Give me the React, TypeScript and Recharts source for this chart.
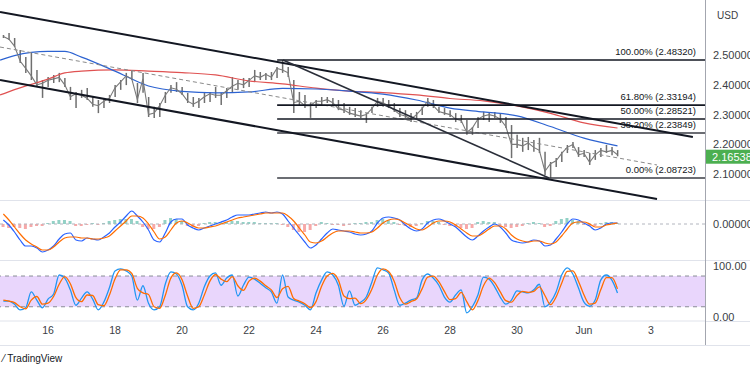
import React from "react";
import {
  ComposedChart,
  Line,
  Bar,
  Cell,
  XAxis,
  YAxis,
  ReferenceLine,
  ReferenceArea,
} from "recharts";

// 4h bars starting May 14, 16:00 (x axis is "day of May", Jun 1 = 32)
const START_DAY = 14 + 4 / 6;
const STEP = 1 / 6;
const X_MIN = 14.567;
const X_MAX = 35.612;

const priceHigh = [
  2.567, 2.574, 2.557, 2.517, 2.493, 2.507, 2.45, 2.416, 2.426, 2.433,
  2.44, 2.423, 2.393, 2.376, 2.383, 2.389, 2.359, 2.349, 2.356, 2.366,
  2.399, 2.416, 2.44, 2.45, 2.406, 2.44, 2.359, 2.326, 2.339, 2.376,
  2.399, 2.409, 2.393, 2.373, 2.359, 2.356, 2.373, 2.376, 2.393, 2.373,
  2.389, 2.426, 2.416, 2.423, 2.423, 2.45, 2.443, 2.44, 2.443, 2.46,
  2.4832, 2.46, 2.416, 2.376, 2.366, 2.339, 2.349, 2.359, 2.359, 2.356,
  2.349, 2.339, 2.326, 2.322, 2.315, 2.305, 2.326, 2.356, 2.356, 2.349,
  2.339, 2.322, 2.315, 2.305, 2.309, 2.326, 2.356, 2.349, 2.326, 2.322,
  2.315, 2.305, 2.299, 2.282, 2.258, 2.292, 2.309, 2.305, 2.309, 2.305,
  2.292, 2.265, 2.232, 2.222, 2.225, 2.215, 2.222, 2.175, 2.141, 2.154,
  2.175, 2.198, 2.208, 2.191, 2.181, 2.171, 2.181, 2.188, 2.198, 2.191,
  2.181,
];

const priceLow = [
  2.557, 2.55, 2.527, 2.473, 2.44, 2.416, 2.393, 2.356, 2.393, 2.406,
  2.409, 2.393, 2.349, 2.322, 2.356, 2.349, 2.326, 2.305, 2.322, 2.339,
  2.359, 2.383, 2.399, 2.416, 2.339, 2.373, 2.292, 2.289, 2.292, 2.339,
  2.373, 2.376, 2.366, 2.339, 2.326, 2.322, 2.339, 2.342, 2.356, 2.332,
  2.356, 2.373, 2.383, 2.389, 2.393, 2.409, 2.416, 2.416, 2.416, 2.423,
  2.44, 2.426, 2.305, 2.332, 2.322, 2.289, 2.322, 2.332, 2.339, 2.332,
  2.315, 2.305, 2.299, 2.292, 2.289, 2.272, 2.305, 2.326, 2.326, 2.322,
  2.309, 2.292, 2.289, 2.275, 2.282, 2.299, 2.326, 2.322, 2.305, 2.299,
  2.292, 2.275, 2.272, 2.232, 2.232, 2.255, 2.282, 2.275, 2.289, 2.272,
  2.255, 2.154, 2.188, 2.175, 2.181, 2.175, 2.171, 2.097, 2.0872, 2.124,
  2.141, 2.171, 2.188, 2.158, 2.158, 2.131, 2.148, 2.158, 2.171, 2.164,
  2.16,
];

const priceClose = [
  2.562, 2.553, 2.53, 2.48, 2.455, 2.43, 2.4, 2.405, 2.415, 2.42,
  2.425, 2.4, 2.36, 2.37, 2.365, 2.355, 2.335, 2.33, 2.345, 2.355,
  2.39, 2.41, 2.43, 2.42, 2.35, 2.42, 2.3, 2.305, 2.33, 2.365,
  2.39, 2.385, 2.37, 2.345, 2.335, 2.345, 2.36, 2.37, 2.365, 2.365,
  2.38, 2.395, 2.405, 2.4, 2.415, 2.43, 2.425, 2.435, 2.425, 2.455,
  2.45, 2.44, 2.34, 2.345, 2.33, 2.33, 2.345, 2.345, 2.35, 2.34,
  2.32, 2.315, 2.305, 2.3, 2.295, 2.3, 2.32, 2.345, 2.34, 2.33,
  2.315, 2.3, 2.295, 2.285, 2.3, 2.32, 2.345, 2.33, 2.31, 2.305,
  2.3, 2.285, 2.28, 2.24, 2.255, 2.285, 2.295, 2.3, 2.295, 2.285,
  2.26, 2.2, 2.2, 2.195, 2.205, 2.19, 2.18, 2.11, 2.135, 2.145,
  2.17, 2.19, 2.2, 2.165, 2.17, 2.14, 2.165, 2.18, 2.175, 2.18,
  2.16538,
];
const lastPrice = 2.16538;

// moving averages, sampled daily
const maDays = [14.57, 15, 16, 16.5, 17, 18, 19, 20, 21, 22, 23, 24, 25, 26, 27, 28, 29, 30, 31, 32, 33];
const maFast = [2.483, 2.498, 2.512, 2.512, 2.493, 2.446, 2.396, 2.378, 2.373, 2.376, 2.388, 2.386, 2.379, 2.369, 2.349, 2.322, 2.309, 2.296, 2.26, 2.221, 2.195];
const maSlow = [2.366, 2.384, 2.419, 2.44, 2.446, 2.45, 2.446, 2.441, 2.433, 2.413, 2.403, 2.389, 2.379, 2.374, 2.366, 2.354, 2.346, 2.329, 2.304, 2.272, 2.255];

// MACD (thousandths)
const macdLine = [
  4, -1, -8, -16, -22, -22, -24, -28, -26, -22,
  -15, -10, -9, -16, -17, -14, -15, -16, -13, -9,
  -3, 2, 8, 13, 8, 2, -6, -16, -18, -9,
  2, 5, 5, -1, -4, -6, -4, -2, 0, 2,
  4, 7, 9, 9, 9, 10, 11, 12, 11, 12,
  10, 3, -4, -11, -18, -24, -21, -15, -9, -5,
  -6, -7, -8, -10, -11, -10, -7, 1, 6, 7,
  6, 4, -1, -5, -7, -5, 1, 4, 5, 3,
  0, -3, -8, -13, -16, -12, -7, -3, 0, -3,
  -9, -16, -18, -19, -18, -16, -17, -22, -21, -15,
  -8, 0, 5, 4, 1, -2, -6, -4, 0, 1,
  1,
];
const macdSignal = [
  10, 4, -3, -10, -16, -20, -23, -26, -26, -23,
  -18, -14, -13, -13, -14, -14, -15, -15, -14, -12,
  -7, -2, 3, 8, 8, 6, 0, -8, -15, -13,
  -6, 1, 3, 1, -2, -4, -4, -3, -2, 0,
  2, 4, 6, 7, 8, 9, 10, 11, 11, 11,
  11, 8, 3, -4, -11, -18, -19, -17, -13, -9,
  -7, -7, -7, -8, -9, -9, -8, -4, 1, 4,
  5, 4, 1, -2, -5, -6, -3, 1, 3, 3,
  2, -1, -5, -9, -12, -12, -9, -5, -2, -2,
  -5, -11, -15, -17, -18, -17, -17, -19, -20, -18,
  -12, -5, 1, 2, 2, 0, -3, -3, -1, 0,
  1,
];
const macdHist = [
  -3, -4, -3, -4, -5, -3, -2, -2, 1, 3,
  4, 4, 3, -2, -2, -1, 1, -1, 1, 3,
  4, 5, 5, 5, 3, -3, -5, -5, -3, 4,
  6, 5, 3, -2, -3, -2, 1, 2, 2, 2,
  2, 3, 3, 2, 2, 2, 1, 1, 1, 1,
  -1, -3, -6, -8, -8, -6, -2, 2, 1, -1,
  -1, -2, -1, 1, 1, 2, 2, 4, 5, 4,
  2, -1, -2, -3, -2, 1, 3, 3, 2, -1,
  -2, -3, -4, -5, -4, 2, 3, 2, 2, -2,
  -3, -4, -3, -2, 1, 2, 1, -3, -2, 3,
  5, 6, 4, 3, -1, -2, -2, 1, 2, 2,
  1,
];

const stochK = [
  31, 31, 25, 14, 18, 49, 33, 18, 35, 45,
  82, 76, 53, 23, 37, 49, 35, 14, 29, 57,
  90, 94, 90, 80, 33, 61, 27, 14, 20, 64,
  88, 84, 62, 20, 14, 27, 59, 80, 86, 62,
  76, 82, 41, 62, 78, 74, 66, 57, 49, 27,
  82, 39, 33, 29, 23, 14, 47, 72, 88, 82,
  62, 21, 51, 23, 29, 39, 68, 96, 92, 86,
  53, 23, 27, 33, 37, 72, 84, 76, 62, 39,
  29, 43, 53, 8, 20, 43, 78, 74, 59, 39,
  25, 33, 51, 49, 47, 53, 64, 20, 29, 49,
  82, 96, 84, 57, 29, 21, 33, 72, 82, 72,
  47,
];
const stochD = [
  33, 31, 28, 20, 16, 33, 40, 25, 27, 40,
  64, 79, 65, 38, 30, 43, 42, 24, 22, 43,
  74, 92, 92, 85, 56, 47, 44, 20, 17, 42,
  76, 86, 73, 41, 17, 20, 43, 70, 83, 74,
  69, 79, 61, 52, 70, 76, 70, 61, 53, 38,
  55, 60, 36, 31, 26, 18, 30, 60, 80, 85,
  72, 41, 36, 37, 26, 34, 54, 82, 94, 89,
  70, 38, 25, 30, 35, 55, 78, 80, 69, 50,
  34, 36, 48, 30, 14, 32, 61, 76, 67, 49,
  32, 29, 42, 50, 48, 50, 59, 42, 24, 39,
  66, 89, 90, 70, 43, 25, 27, 53, 77, 77,
  55,
];

const dayTicks = [16, 18, 20, 22, 24, 26, 28, 30, 32, 34];
const dayLabels = ["16", "18", "20", "22", "24", "26", "28", "30", "Jun", "3"];
const priceTicks = [2.1, 2.2, 2.3, 2.4, 2.5];

// drawings
const fibStart = 22.84;
const fibPct = ["100.00%", "61.80%", "50.00%", "38.20%", "0.00%"];
const fibPrice = [2.4832, 2.33194, 2.28521, 2.23849, 2.08723];
const fibColor = ["#131722", "#131722", "#131722", "#3a3d45", "#3a3d45"];

const channelTop = [{ x: 14.567, y: 2.6443 }, { x: 35.25, y: 2.2248 }];
const channelBottom = [{ x: 14.567, y: 2.4161 }, { x: 34.18, y: 2.0168 }];
const fibDiagonal = [{ x: 23.015, y: 2.4832 }, { x: 30.955, y: 2.0872 }];
const midDashed = [{ x: 14.567, y: 2.5268 }, { x: 34.18, y: 2.1309 }];

const AXIS_TEXT = { fontSize: 11, fill: "#3b3e45" };
const SEP = "#e0e3eb";

const fibLabel = (text: string) => (props: any) => {
  const vb = props.viewBox || {};
  return (
    <text x={vb.x + vb.width - 9} y={vb.y - 5} textAnchor="end" fontSize={9.5} fill="#131722">
      {text}
    </text>
  );
};

const priceTag = (props: any) => {
  const vb = props.viewBox || {};
  const x = vb.x + vb.width;
  return (
    <g>
      <rect x={x} y={vb.y - 5} width={46} height={14} fill="#4caf50" />
      <text x={x + 7} y={vb.y + 6} fontSize={11} fill="#ffffff">
        {lastPrice.toFixed(5)}
      </text>
    </g>
  );
};

export default function App() {
  const rows = priceClose.map((c, i) => ({
    t: START_DAY + i * STEP,
    close: c,
    range: [priceLow[i], priceHigh[i]],
    macd: macdLine[i],
    signal: macdSignal[i],
    hist: macdHist[i],
    k: stochK[i],
    d: stochD[i],
  }));
  const maRows = maDays.map((t, i) => ({ t, fast: maFast[i], slow: maSlow[i] }));
  const margin = { top: 0, right: 0, bottom: 0, left: 0 };

  return (
    <div
      style={{
        position: "absolute",
        left: 0,
        top: 0,
        width: 750,
        height: 375,
        background: "#ffffff",
        overflow: "hidden",
        fontFamily: "'Liberation Sans', Arial, sans-serif",
      }}
    >
      {/* price pane */}
      <div style={{ position: "absolute", left: 0, top: 0 }}>
        <ComposedChart width={750} height={200} data={rows} margin={margin}>
          <XAxis type="number" dataKey="t" domain={[X_MIN, X_MAX]} allowDataOverflow hide />
          <YAxis
            orientation="right"
            width={45}
            domain={[2.0134, 2.6846]}
            allowDataOverflow
            ticks={priceTicks}
            tickFormatter={(v: number) => v.toFixed(5)}
            axisLine={false}
            tickLine={false}
            tick={AXIS_TEXT}
          />
          <Line data={maRows} dataKey="slow" type="monotone" stroke="#e05252" strokeWidth={1.2} dot={false} activeDot={false} isAnimationActive={false} />
          <Line data={maRows} dataKey="fast" type="monotone" stroke="#2d63d1" strokeWidth={1.2} dot={false} activeDot={false} isAnimationActive={false} />
          <Bar dataKey="range" barSize={1.5} fill="#6f6f6f" isAnimationActive={false} />
          <Line dataKey="close" type="linear" stroke="#7a7a7a" strokeWidth={1.1} dot={false} activeDot={false} isAnimationActive={false} />
          <ReferenceLine segment={midDashed} stroke="#8a8a8a" strokeDasharray="4 3" strokeWidth={1} />
          {fibPrice.map((p, i) => (
            <ReferenceLine
              key={fibPct[i]}
              segment={[{ x: fibStart, y: p }, { x: X_MAX, y: p }]}
              stroke={fibColor[i]}
              strokeWidth={1.6}
              label={fibLabel(`${fibPct[i]} (${p.toFixed(5)})`)}
            />
          ))}
          <ReferenceLine segment={channelTop} stroke="#131722" strokeWidth={2} />
          <ReferenceLine segment={channelBottom} stroke="#131722" strokeWidth={2} />
          <ReferenceLine segment={fibDiagonal} stroke="#2a2e39" strokeWidth={1.6} />
          <ReferenceLine y={lastPrice} stroke="none" label={priceTag} />
        </ComposedChart>
      </div>

      {/* MACD pane */}
      <div style={{ position: "absolute", left: 0, top: 200 }}>
        <ComposedChart width={750} height={60} data={rows} margin={margin}>
          <XAxis type="number" dataKey="t" domain={[X_MIN, X_MAX]} allowDataOverflow hide />
          <YAxis
            orientation="right"
            width={45}
            domain={[-36, 24]}
            allowDataOverflow
            ticks={[0]}
            tickFormatter={() => "0.00000"}
            axisLine={false}
            tickLine={false}
            tick={AXIS_TEXT}
          />
          <ReferenceLine y={0} stroke="#b2b5be" strokeDasharray="3 3" />
          <Bar dataKey="hist" barSize={3} isAnimationActive={false}>
            {rows.map((r, i) => (
              <Cell key={i} fill={r.hist >= 0 ? "#93d1c6" : "#f6a9a9"} />
            ))}
          </Bar>
          <Line dataKey="macd" type="monotone" stroke="#2962ff" strokeWidth={1.2} dot={false} activeDot={false} isAnimationActive={false} />
          <Line dataKey="signal" type="monotone" stroke="#ff6d00" strokeWidth={1.2} dot={false} activeDot={false} isAnimationActive={false} />
        </ComposedChart>
      </div>

      {/* Stochastic pane + time axis */}
      <div style={{ position: "absolute", left: 0, top: 260 }}>
        <ComposedChart width={750} height={85} data={rows} margin={margin}>
          <XAxis
            type="number"
            dataKey="t"
            domain={[X_MIN, X_MAX]}
            allowDataOverflow
            ticks={dayTicks}
            tickFormatter={(v: number) => dayLabels[dayTicks.indexOf(v)]}
            height={24}
            axisLine={{ stroke: SEP }}
            tickLine={false}
            tickMargin={0}
            tick={{ fontSize: 10.5, fill: "#3b3e45" }}
          />
          <YAxis
            orientation="right"
            width={45}
            domain={[-7.8, 111.3]}
            allowDataOverflow
            ticks={[0, 100]}
            tickFormatter={(v: number) => v.toFixed(2)}
            axisLine={false}
            tickLine={false}
            tick={AXIS_TEXT}
          />
          <ReferenceArea y1={20} y2={80} fill="#e9d6fc" fillOpacity={1} stroke="none" />
          <ReferenceLine y={80} stroke="#8a8d96" strokeDasharray="4 4" />
          <ReferenceLine y={20} stroke="#8a8d96" strokeDasharray="4 4" />
          <Line dataKey="k" type="monotone" stroke="#2196f3" strokeWidth={1.3} dot={false} activeDot={false} isAnimationActive={false} />
          <Line dataKey="d" type="monotone" stroke="#ff6d00" strokeWidth={1.3} dot={false} activeDot={false} isAnimationActive={false} />
        </ComposedChart>
      </div>

      {/* pane separators and price scale border */}
      <div style={{ position: "absolute", left: 0, top: 200, width: 750, height: 1, background: SEP }} />
      <div style={{ position: "absolute", left: 0, top: 260, width: 750, height: 1, background: SEP }} />
      <div style={{ position: "absolute", left: 705, top: 321, width: 45, height: 1, background: SEP }} />
      <div style={{ position: "absolute", left: 0, top: 345, width: 750, height: 1, background: SEP }} />
      <div style={{ position: "absolute", left: 705, top: 0, width: 1, height: 345, background: "#a3a6af" }} />

      <div style={{ position: "absolute", left: 717, top: 10, fontSize: 10, color: "#3b3e45" }}>USD</div>
      <div style={{ position: "absolute", left: 3, top: 353, fontSize: 10, color: "#131722" }}>
        ⁄ TradingView
      </div>
    </div>
  );
}
